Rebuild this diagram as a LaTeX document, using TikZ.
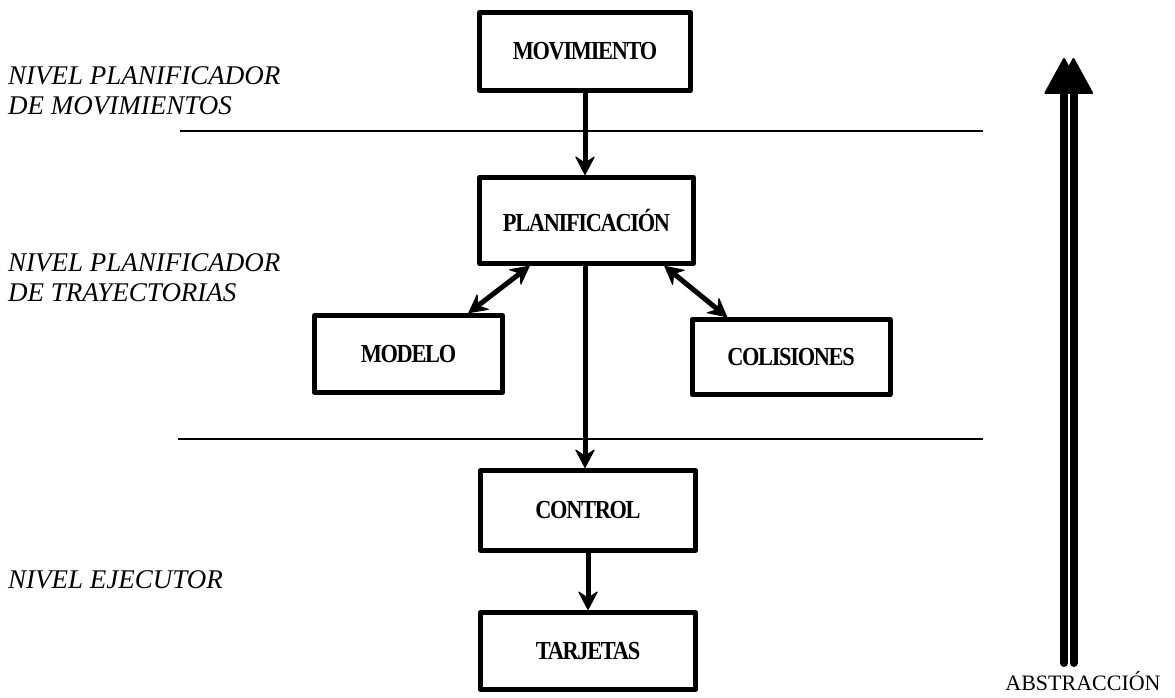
\documentclass[tikz,border=0pt]{standalone}
\usepackage{fontspec}
\setmainfont{Liberation Serif}
\newfontfamily\cajafont[FakeStretch=0.86,LetterSpace=-5]{Liberation Serif}
\usetikzlibrary{arrows.meta,calc}

\begin{document}
\begin{tikzpicture}[x=1pt, y=-1pt, line join=round, line cap=round,
  caja/.style={draw, rectangle, line width=5pt, inner sep=0pt,
    font=\cajafont\bfseries\fontsize{26}{28}\selectfont},
  flecha/.style={line width=5pt,
    -{Stealth[length=20pt,width=21pt,inset=7pt,line width=1pt,round]}},
  flechados/.style={line width=5pt,
    {Stealth[length=20pt,width=21pt,inset=7pt,line width=1pt,round]}-{Stealth[length=20pt,width=21pt,inset=7pt,line width=1pt,round]}},
  nivel/.style={anchor=north west, align=left, inner sep=0pt,
    font=\itshape\fontsize{27}{30}\selectfont},
  separador/.style={line width=2pt, line cap=butt},
  abstr/.style={line width=8pt,
    -{Triangle[length=37pt,width=40pt,line width=2pt,round]}}]
\useasboundingbox (0,0) rectangle (1175,697);
% Cajas del diagrama
\node[caja, minimum width=211, minimum height=78] (mov) at (585,51.5) {MOVIMIENTO};
\node[caja, minimum width=214, minimum height=86] (plan) at (586.5,220.5) {PLANIFICACIÓN};
\node[caja, minimum width=188, minimum height=77] (modelo) at (408.5,354) {MODELO};
\node[caja, minimum width=198, minimum height=75] (colis) at (791,357) {COLISIONES};
\node[caja, minimum width=215, minimum height=80] (control) at (588,510.5) {CONTROL};
\node[caja, minimum width=215, minimum height=77] (tarjetas) at (588,651) {TARJETAS};
% Lineas que separan los niveles
\coordinate (s1a) at (180,131);
\coordinate (s1b) at (983,131);
\coordinate (s2a) at (178,439);
\coordinate (s2b) at (983,439);
\draw[separador] (s1a) -- (s1b);
\draw[separador] (s2a) -- (s2b);
% Flechas entre cajas
\draw[flecha] (mov.south) -- (mov.south |- plan.north);
\draw[flecha] (plan.south -| mov.south) -- (mov.south |- control.north);
\draw[flecha] (control.south) -- (tarjetas.north);
\draw[flechados] ($(plan.south)+(-57,0)$) -- ($(modelo.north)+(60,0)$);
\draw[flechados] ($(plan.south)+(78,0)$) -- ($(colis.north)+(-64,0)$);
% Niveles
\node[nivel] (n1) at (8,66) {NIVEL PLANIFICADOR\\DE MOVIMIENTOS};
\node[nivel] (n2) at (8,253) {NIVEL PLANIFICADOR\\DE TRAYECTORIAS};
\node[nivel] (n3) at (8,570) {NIVEL EJECUTOR};
% Flecha de abstraccion
\coordinate (abA) at (1064,663);
\coordinate (arA) at (1064,58);
\coordinate (abB) at (1073.5,663);
\coordinate (arB) at (1073.5,58);
\draw[abstr] (abA) -- (arA);
\draw[abstr] (abB) -- (arB);
\node[anchor=base, font=\fontsize{22}{24}\selectfont] (abs) at (1083,690) {ABSTRACCIÓN};
\end{tikzpicture}
\end{document}
